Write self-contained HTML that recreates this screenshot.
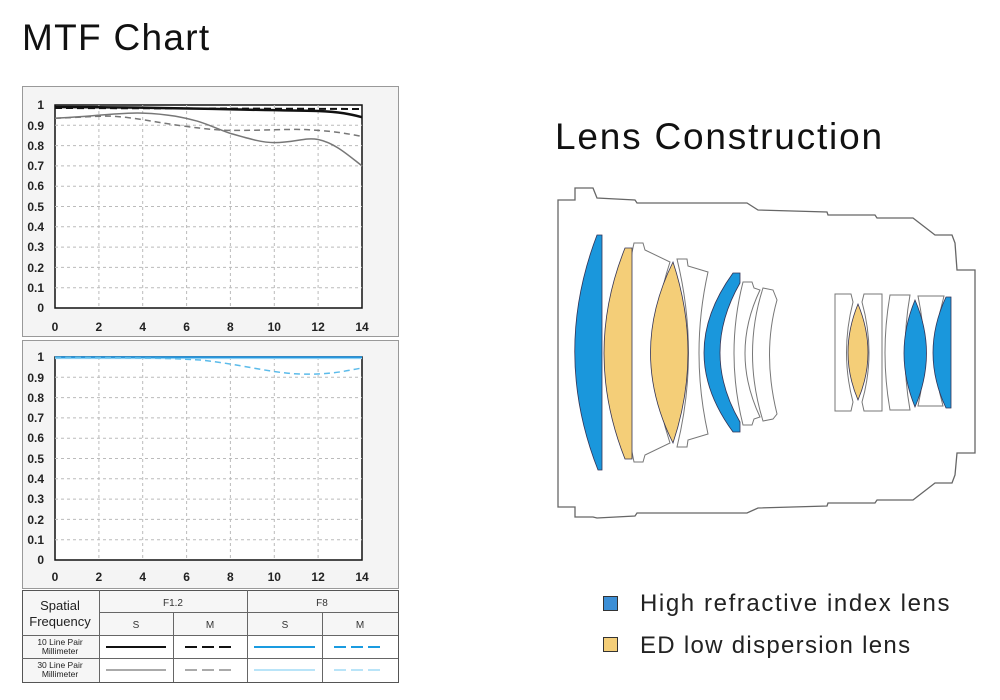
<!DOCTYPE html>
<html><head><meta charset="utf-8"><style>
html,body{margin:0;padding:0;background:#fff;}
body{width:1000px;height:700px;overflow:hidden;}
svg{display:block;}
text{font-family:"Liberation Sans",sans-serif;}
</style></head><body>
<svg width="1000" height="700" viewBox="0 0 1000 700" xmlns="http://www.w3.org/2000/svg">
<text x="22" y="50" font-size="37" letter-spacing="1.3" fill="#111">MTF Chart</text>
<text x="555" y="149" font-size="37" letter-spacing="1.8" fill="#111">Lens Construction</text>

<!-- Chart 1 -->
<rect x="22.5" y="86.5" width="376" height="250" fill="#f4f4f4" stroke="#999"/>
<rect x="55" y="105" width="307" height="203" fill="#fff" stroke="#111" stroke-width="1.5"/>
<g stroke="#bbb" stroke-dasharray="3,3" stroke-width="1">
<path d="M55,125.3H362M55,145.6H362M55,165.9H362M55,186.2H362M55,206.5H362M55,226.8H362M55,247.1H362M55,267.4H362M55,287.7H362"/>
<path d="M98.9,105V308M142.7,105V308M186.6,105V308M230.4,105V308M274.3,105V308M318.1,105V308"/>
</g>
<g font-size="12" font-weight="bold" fill="#222" text-anchor="end">
<text x="44" y="109">1</text><text x="44" y="130">0.9</text><text x="44" y="150">0.8</text><text x="44" y="170">0.7</text><text x="44" y="190">0.6</text><text x="44" y="211">0.5</text><text x="44" y="231">0.4</text><text x="44" y="251">0.3</text><text x="44" y="272">0.2</text><text x="44" y="292">0.1</text><text x="44" y="312">0</text>
</g>
<g font-size="12" font-weight="bold" fill="#222" text-anchor="middle">
<text x="55" y="331">0</text><text x="98.9" y="331">2</text><text x="142.7" y="331">4</text><text x="186.6" y="331">6</text><text x="230.4" y="331">8</text><text x="274.3" y="331">10</text><text x="318.1" y="331">12</text><text x="362" y="331">14</text>
</g>
<path d="M55,118.2 C90,117 120,112 142.7,113.1 C170,114 185,118 197.5,121.2 C210,125 220,130 230.4,133.4 C250,139 262,142.6 274.3,142.6 C295,142.6 305,137 318.1,139.5 C335,143 348,155 362,165.9" fill="none" stroke="#777" stroke-width="1.5"/>
<path d="M55,118.2 C80,117.5 95,116 109.8,116.1 C130,117 150,121 164.6,123.3 C190,127 210,130 230.4,130.4 C260,130.5 280,129.4 296.2,129.4 C305,129.4 312,130 318.1,130.4 C335,131.5 350,134 362,136.5" fill="none" stroke="#777" stroke-width="1.5" stroke-dasharray="6,4"/>
<path d="M55,107 C150,107 250,110 318.1,111 C340,112 350,114 362,117.2" fill="none" stroke="#111" stroke-width="2.5"/>
<path d="M55,108 L362,109" fill="none" stroke="#111" stroke-width="2" stroke-dasharray="7,4"/>

<!-- Chart 2 -->
<rect x="22.5" y="340.5" width="376" height="248" fill="#f4f4f4" stroke="#999"/>
<rect x="55" y="357" width="307" height="203" fill="#fff" stroke="#111" stroke-width="1.5"/>
<g stroke="#bbb" stroke-dasharray="3,3" stroke-width="1">
<path d="M55,377.3H362M55,397.6H362M55,417.9H362M55,438.2H362M55,458.5H362M55,478.8H362M55,499.1H362M55,519.4H362M55,539.7H362"/>
<path d="M98.9,357V560M142.7,357V560M186.6,357V560M230.4,357V560M274.3,357V560M318.1,357V560"/>
</g>
<g font-size="12" font-weight="bold" fill="#222" text-anchor="end">
<text x="44" y="361">1</text><text x="44" y="382">0.9</text><text x="44" y="402">0.8</text><text x="44" y="422">0.7</text><text x="44" y="442">0.6</text><text x="44" y="463">0.5</text><text x="44" y="483">0.4</text><text x="44" y="503">0.3</text><text x="44" y="524">0.2</text><text x="44" y="544">0.1</text><text x="44" y="564">0</text>
</g>
<g font-size="12" font-weight="bold" fill="#222" text-anchor="middle">
<text x="55" y="581">0</text><text x="98.9" y="581">2</text><text x="142.7" y="581">4</text><text x="186.6" y="581">6</text><text x="230.4" y="581">8</text><text x="274.3" y="581">10</text><text x="318.1" y="581">12</text><text x="362" y="581">14</text>
</g>
<path d="M55,357.5 L362,357.5" stroke="#1a8fdc" stroke-width="2.5" fill="none"/>
<path d="M55,358.5 L362,358.5" stroke="#8fd0f2" stroke-width="1.2" fill="none"/>
<path d="M55,357.5 C120,357.5 170,358 200,360 C240,364 270,373 300,374 C330,375 345,371 362,368" fill="none" stroke="#5bbbea" stroke-width="1.5" stroke-dasharray="6,4"/>

<!-- Table -->
<rect x="22.5" y="590.5" width="376" height="92" fill="#f6f6f6" stroke="#555"/>
<rect x="100" y="636" width="298" height="22" fill="#fff"/>
<rect x="100" y="659" width="298" height="23" fill="#fff"/>
<path d="M99.5,590V682M247.5,590V682M173.5,612V682M322.5,612V682M99,612.5H398M22,635.5H398M22,658.5H398" stroke="#666" stroke-width="1"/>
<text x="60" y="610" font-size="13" text-anchor="middle" fill="#222">Spatial</text>
<text x="60" y="626" font-size="13" text-anchor="middle" fill="#222">Frequency</text>
<text x="173" y="606" font-size="10" font-family="Liberation Mono" text-anchor="middle" fill="#333">F1.2</text>
<text x="322" y="606" font-size="10" font-family="Liberation Mono" text-anchor="middle" fill="#333">F8</text>
<g font-size="10" font-family="Liberation Mono" text-anchor="middle" fill="#333">
<text x="136" y="628">S</text><text x="210" y="628">M</text><text x="285" y="628">S</text><text x="360" y="628">M</text></g>
<g font-size="8.5" text-anchor="middle" fill="#222">
<text x="60" y="645">10 Line Pair</text><text x="60" y="654">Millimeter</text>
<text x="60" y="668">30 Line Pair</text><text x="60" y="677">Millimeter</text></g>
<path d="M106,647H166" stroke="#111" stroke-width="2"/>
<path d="M185,647H234" stroke="#111" stroke-width="2" stroke-dasharray="12,5"/>
<path d="M254,647H315" stroke="#1a9be0" stroke-width="2"/>
<path d="M334,647H384" stroke="#1a9be0" stroke-width="2" stroke-dasharray="12,5"/>
<path d="M106,670H166" stroke="#777" stroke-width="1.2"/>
<path d="M185,670H234" stroke="#777" stroke-width="1.2" stroke-dasharray="12,5"/>
<path d="M254,670H315" stroke="#8fd3f3" stroke-width="1.2"/>
<path d="M334,670H384" stroke="#8fd3f3" stroke-width="1.2" stroke-dasharray="12,5"/>

<!-- Lens barrel -->
<path d="M558,200 L575,200 L575,188 L593,188 L597,198 L635,200 L637,203 L747,203 L758,210 L827,212 L828,215 L875,215 L877,218 L913,218 L935,235 L952,235 L955,243 L957,270 L975,270 L975,453 L957,453 L955,475 L952,483 L935,483 L913,500 L877,500 L875,503 L828,503 L827,506 L758,508 L747,513 L637,513 L635,516 L597,518 L593,517 L575,517 L575,507 L558,507 Z" fill="#fff" stroke="#666" stroke-width="1.3"/>

<g fill="#fff" stroke="#777" stroke-width="1">
<path d="M634,243 L643,243 L645,250 L670,262 Q640,353 670,443 L645,455 L643,462 L634,462 Q610,353 634,243 Z"/>
<path d="M677,259 L687,259 L688,266 L708,272 Q690,353 708,434 L688,440 L687,447 L677,447 Q700,353 677,259 Z"/>
<path d="M743,282 L752,282 L754,288 L760,290 Q730,353 760,417 L754,419 L752,425 L743,425 Q725,353 743,282 Z"/>
<path d="M763,288 L773,290 L777,300 Q762,353 777,414 L773,419 L763,421 Q742,353 763,288 Z"/>
<path d="M835,294 L851,294 L853,302 Q840,353 853,402 L851,411 L835,411 Z"/>
<path d="M864,294 L882,294 L882,411 L864,411 L862,402 Q876,353 862,302 Z"/>
<path d="M890,295 L910,295 Q900,353 910,410 L890,410 Q880,353 890,295 Z"/>
<path d="M918,296 L944,296 L943,300 Q928,353 943,406 L918,406 Q930,353 918,296 Z"/>
</g>

<g stroke="#335" stroke-width="0.8">
<path d="M597,235 L602,235 L602,470 L598,470 Q552,353 597,235 Z" fill="#1a97dc"/>
<path d="M625,248 L632,248 L632,459 L625,459 Q583,353 625,248 Z" fill="#f4ce78"/>
<path d="M673,262 Q628,353 673,443 Q703,353 673,262 Z" fill="#f4ce78"/>
<path d="M733,273 L740,273 L740,283 Q700,353 740,422 L740,432 L733,432 Q675,353 733,273 Z" fill="#1a97dc"/>
<path d="M858,304 Q838,353 858,400 Q878,353 858,304 Z" fill="#f4ce78"/>
<path d="M915,300 Q893,353 915,407 Q938,353 915,300 Z" fill="#1a97dc"/>
<path d="M946,297 L951,297 L951,408 L946,408 Q920,353 946,297 Z" fill="#1a97dc"/>
</g>

<!-- Legend -->
<rect x="603.5" y="596.5" width="14" height="14" fill="#3c8fd6" stroke="#333" stroke-width="1"/>
<text x="640" y="611" font-size="24" letter-spacing="1.6" fill="#222">High refractive index lens</text>
<rect x="603.5" y="637.5" width="14" height="14" fill="#f4ce78" stroke="#333" stroke-width="1"/>
<text x="640" y="653" font-size="24" letter-spacing="1.3" fill="#222">ED low dispersion lens</text>
</svg>
</body></html>
